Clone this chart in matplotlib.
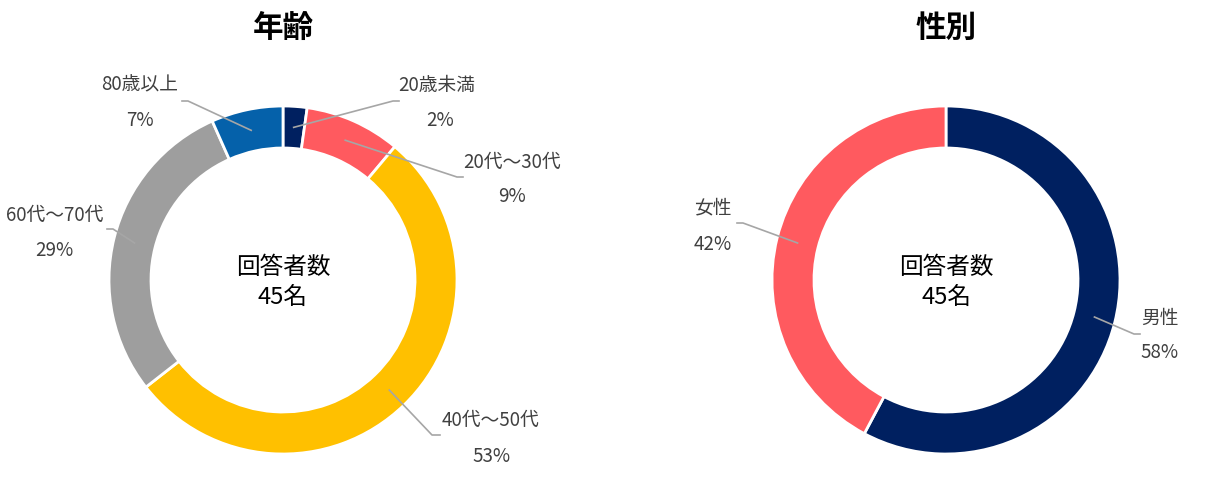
import matplotlib
matplotlib.use("Agg")
import numpy as np
import matplotlib.pyplot as plt

plt.rcParams['font.family'] = ['Noto Sans CJK JP', 'DejaVu Sans']

### data
total = 45

age_labels = ["20歳未満", "20代～30代", "40代～50代", "60代～70代", "80歳以上"]
age_counts = [1, 4, 24, 13, 3]
age_colors = ["#002060", "#FF5A5F", "#FFC000", "#9E9E9E", "#0561AA"]

sex_labels = ["男性", "女性"]
sex_counts = [26, 19]
sex_colors = ["#002060", "#FF5A5F"]

### layout (pixel positions, y measured from the top)
W, H = 1229, 495
R_OUT, R_IN = 174, 132

# label centre, pct centre, line end, line elbow
age_text = [
    ((437, 85), (440, 121), (399, 101), (393, 101)),
    ((512, 162), (512, 197), (463, 177), (457, 177)),
    ((490, 420), (492, 457), (440, 435), (432, 435)),
    ((55, 215), (54, 250), (107, 229), (113, 229)),
    ((140, 85), (140, 120), (182, 101), (188, 101)),
]
sex_text = [
    ((1160, 318), (1160, 353), (1140, 334), (1134, 334)),
    ((713, 208), (713, 245), (737, 223), (743, 223)),
]


def py(y):
    # convert pixel y (top origin) to data y
    return H - y


fig = plt.figure(figsize=(W / 100, H / 100), dpi=100)
ax = fig.add_axes([0, 0, 1, 1])


def donut(cx, cy, counts, colors, labels, text_pos, title):
    wedges, _ = ax.pie(counts, colors=colors, startangle=90, counterclock=False,
                       center=(cx, py(cy)), radius=R_OUT,
                       wedgeprops=dict(width=R_OUT - R_IN, edgecolor="white", linewidth=2))
    for w, lab, n, (lp, pp, le, el) in zip(wedges, labels, counts, text_pos):
        # leader line starts in the middle of the ring
        mid = np.deg2rad((w.theta1 + w.theta2) / 2)
        rm = (R_OUT + R_IN) / 2
        ax_x = cx + rm * np.cos(mid)
        ax_y = py(cy) + rm * np.sin(mid)
        ax.plot([ax_x, el[0], le[0]], [ax_y, py(el[1]), py(le[1])],
                color="#A6A6A6", lw=1.2, zorder=5)
        ax.text(lp[0], py(lp[1]), lab, ha="center", va="center", fontsize=13.5, color="#404040")
        ax.text(pp[0], py(pp[1]), f"{round(n / total * 100)}%", ha="center", va="center",
                fontsize=13.5, color="#404040")
    ax.text(cx, py(268), "回答者数", ha="center", va="center", fontsize=17, color="black")
    ax.text(cx, py(297), f"{total}名", ha="center", va="center", fontsize=17, color="black")
    ax.text(cx, py(28), title, ha="center", va="center", fontsize=22, fontweight="bold", color="black")


donut(283, 280, age_counts, age_colors, age_labels, age_text, "年齢")
donut(946, 280, sex_counts, sex_colors, sex_labels, sex_text, "性別")

ax.set_xlim(0, W)
ax.set_ylim(0, H)
ax.set_aspect("auto")
ax.axis("off")

fig.savefig("out.png", dpi=100)
